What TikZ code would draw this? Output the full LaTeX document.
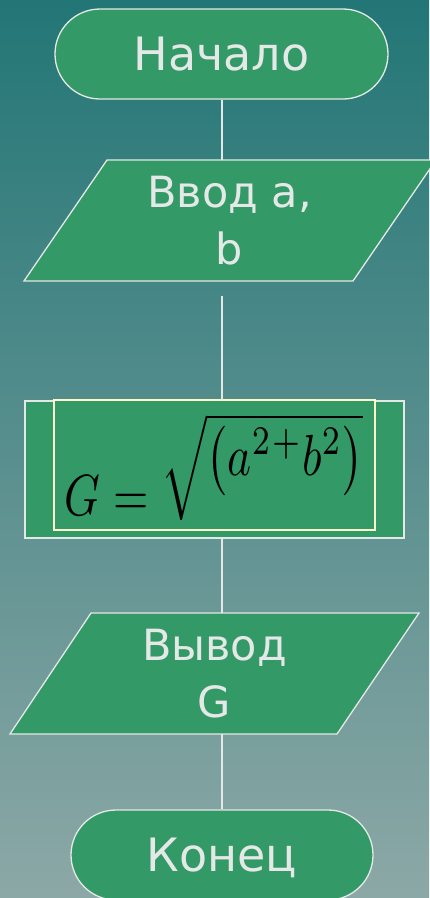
\documentclass[tikz,border=0pt]{standalone}
\usepackage{fontspec}
\setmainfont{DejaVu Sans}
\usetikzlibrary{shapes.misc}

\definecolor{bgtop}{RGB}{35,118,118}
\definecolor{bgbot}{RGB}{140,168,166}
\definecolor{blockgreen}{RGB}{51,153,102}
\definecolor{edge}{RGB}{228,232,230}
\definecolor{pale}{RGB}{255,255,204}

\tikzset{
  term/.style={rounded rectangle, draw=edge, line width=1.3pt, fill=blockgreen,
    text=edge, font=\fontsize{46}{50}\selectfont, minimum height=90pt,
    inner sep=0pt, text depth=0pt},
  io/.style={text=edge, align=center, font=\fontsize{43}{57}\selectfont,
    minimum height=121pt, inner sep=0pt},
  box/.style={draw=edge, line width=1.3pt, fill=blockgreen},
  link/.style={draw=edge, line width=1.3pt},
}

\begin{document}
\begin{tikzpicture}[x=1pt,y=-1pt]
\useasboundingbox (0,0) rectangle (429,898);
\shade[top color=bgtop, bottom color=bgbot] (0,0) rectangle (429,898);
\coordinate (axis) at (222,0);

\node[term, minimum width=333pt] (start) at (221.5,54) {Начало};

\filldraw[box] (107,160) -- (436,160) -- (353,281) -- (24,281) -- cycle;
\node[io] (input) at (229.5,220.5) {Ввод а,\\b};

\node[box, minimum width=379pt, minimum height=137pt, inner sep=0pt] (calc) at (214.5,469.5) {};
\node[box, draw=pale, minimum width=321pt, minimum height=130pt, inner sep=0pt] (frame) at (214.5,465) {};
% formula, raised inside the root as in the original
\node[xscale=4.55, yscale=5.8, anchor=base west, inner sep=0pt] (expr) at (64,515)
  {$G=\sqrt{\raisebox{6.8pt}{$\bigl(a^{2}{}^{+}b^{2}\bigr)$}}$};

\filldraw[box] (91,613) -- (419,613) -- (337,734) -- (10,734) -- cycle;
\node[io] (output) at (214.5,673.5) {Вывод\\G};

\node[term, minimum width=302pt] (stop) at (222,855) {Конец};

\coordinate (gap) at (222,296);
\draw[link] (axis |- start.south) -- (axis |- input.north);
\draw[link] (gap) -- (axis |- calc.north);
\draw[link] (axis |- calc.south) -- (axis |- output.north);
\draw[link] (axis |- output.south) -- (axis |- stop.north);
\end{tikzpicture}
\end{document}
